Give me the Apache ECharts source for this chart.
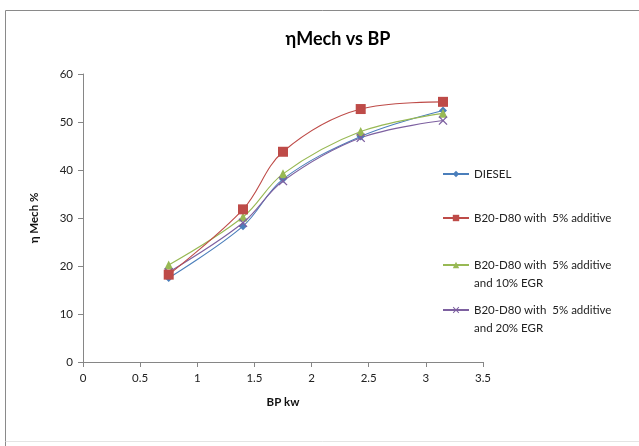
<!DOCTYPE html>
<html><head><meta charset="utf-8">
<script src="https://cdn.jsdelivr.net/npm/echarts@6/dist/echarts.min.js"></script>
<style>html,body{margin:0;padding:0;background:#fff}#c{width:639px;height:446px}</style>
</head><body><div id="c"></div>
<script>
const bp = [0.75, 1.40, 1.75, 2.43, 3.15];
const diesel = [17.5, 28.3, 38.1, 47.0, 52.4];
const b20add = [18.2, 31.8, 43.8, 52.7, 54.2];
const b20egr10 = [20.2, 30.2, 39.2, 48.0, 51.8];
const b20egr20 = [18.7, 29.0, 37.7, 46.7, 50.3];
const seriesNames = ['DIESEL', 'B20-D80 with  5% additive', 'B20-D80 with  5% additive\nand 10% EGR', 'B20-D80 with  5% additive\nand 20% EGR'];
const xTicks = [0, 0.5, 1, 1.5, 2, 2.5, 3, 3.5];
const yTicks = [0, 10, 20, 30, 40, 50, 60];

const colors = ['#4A7EBB', '#BE4B48', '#98B954', '#7D60A0'];
const xPath = 'path://M0,1 L1,0 L5,4 L9,0 L10,1 L6,5 L10,9 L9,10 L5,6 L1,10 L0,9 L4,5 Z';
const symbols = ['diamond', 'rect', 'triangle', xPath];
const sizes = [8, 10, 9, 9];
const datasets = [diesel, b20add, b20egr10, b20egr20];
const font = 'Lato, "Open Sans", sans-serif';

const chart = echarts.init(document.getElementById('c'));
const legendTops = [160, 204, 233, 278];
chart.setOption({
  animation: false,
  title: {text: 'ηMech vs BP', left: 333, top: 25, textAlign: 'center',
    textStyle: {fontFamily: font, fontSize: 18, fontWeight: 'bold', color: '#000'}},
  graphic: [
    {type: 'line', shape: {x1: 5.5, y1: 10.5, x2: 639, y2: 10.5}, style: {stroke: '#8a8a8a', lineWidth: 1}, silent: true},
    {type: 'line', shape: {x1: 5.5, y1: 10.5, x2: 5.5, y2: 446}, style: {stroke: '#8a8a8a', lineWidth: 1}, silent: true},
    {type: 'line', shape: {x1: 5.5, y1: 441.5, x2: 639, y2: 441.5}, style: {stroke: '#e4e4e4', lineWidth: 1}, silent: true}
  ],
  legend: seriesNames.map((n, i) => ({
    data: [n], left: 437, top: legendTops[i], orient: 'vertical',
    itemWidth: 26, itemHeight: 8, itemGap: 0,
    formatter: name => name.includes('\n') ? '\n' + name : name,
    textStyle: {fontFamily: font, fontSize: 11.5, color: '#222', lineHeight: 18}
  })),
  grid: {left: 83, right: 156, top: 74, bottom: 84},
  xAxis: {type: 'value', min: 0, max: 3.5, interval: 0.5,
    name: 'BP kw', nameLocation: 'middle', nameGap: 34,
    nameTextStyle: {fontFamily: font, fontSize: 11.5, fontWeight: 'bold', color: '#111'},
    axisLine: {show: true, lineStyle: {color: '#868686'}},
    axisTick: {show: true, inside: false, length: 5, lineStyle: {color: '#868686'}},
    axisLabel: {fontFamily: font, fontSize: 11.5, color: '#222', margin: 10,
      formatter: v => xTicks.includes(v) ? String(v) : ''},
    splitLine: {show: false}},
  yAxis: {type: 'value', min: 0, max: 60, interval: 10,
    name: 'η Mech %', nameLocation: 'middle', nameGap: 43, nameRotate: 90,
    nameTextStyle: {fontFamily: font, fontSize: 11.5, fontWeight: 'bold', color: '#111'},
    axisLine: {show: true, lineStyle: {color: '#868686'}},
    axisTick: {show: true, inside: false, length: 5, lineStyle: {color: '#868686'}},
    axisLabel: {fontFamily: font, fontSize: 11.5, color: '#222', margin: 10,
      formatter: v => yTicks.includes(v) ? String(v) : ''},
    splitLine: {show: false}},
  series: datasets.map((d, i) => ({
    name: seriesNames[i], type: 'line', smooth: 0.35,
    data: bp.map((x, k) => [x, d[k]]),
    symbol: symbols[i], symbolSize: sizes[i],
    itemStyle: {color: colors[i]},
    lineStyle: {color: colors[i], width: 1.1},
    z: i === 1 ? 3 : 2
  }))
});
</script></body></html>
